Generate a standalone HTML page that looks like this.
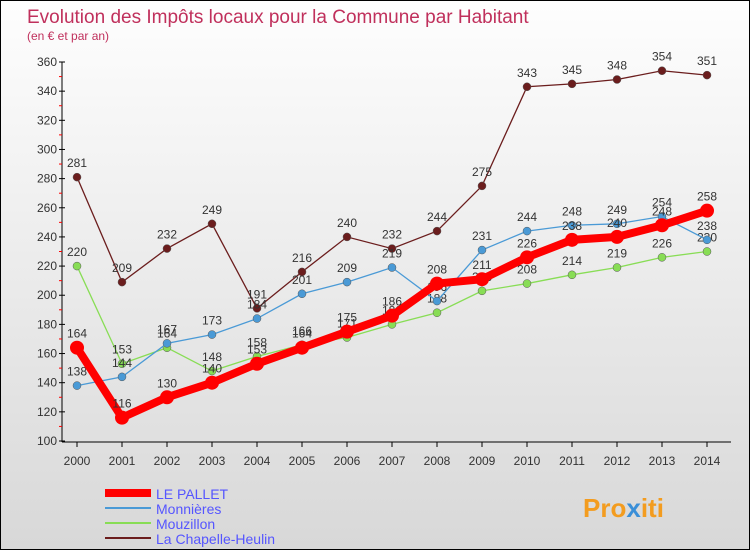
<!DOCTYPE html>
<html><head><meta charset="utf-8"><style>
body{margin:0}
#c{width:750px;height:550px;position:relative;overflow:hidden;background:linear-gradient(#fefefe,#d8d8d8);box-sizing:border-box;border:1px solid #000;font-family:"Liberation Sans",sans-serif}
</style></head><body>
<div id="c">
<svg id="s" width="750" height="550" style="position:absolute;left:0;top:0">
<text x="26" y="22" font-size="19" fill="#c0305c">Evolution des Impôts locaux pour la Commune par Habitant</text>
<text x="26" y="39" font-size="12" fill="#c0305c">(en € et par an)</text>
<g id="ax"></g><g id="ser"></g>
<g>
<line x1="104" y1="492" x2="150" y2="492" stroke="#f00" stroke-width="8"/>
<text x="155" y="498" font-size="14" fill="#55f">LE PALLET</text>
<line x1="104" y1="507" x2="150" y2="507" stroke="#4a9ad6" stroke-width="2"/>
<text x="155" y="513" font-size="14" fill="#55f">Monnières</text>
<line x1="104" y1="522" x2="150" y2="522" stroke="#88dd55" stroke-width="2"/>
<text x="155" y="528" font-size="14" fill="#55f">Mouzillon</text>
<line x1="104" y1="537" x2="150" y2="537" stroke="#6b1d1d" stroke-width="2"/>
<text x="155" y="543" font-size="14" fill="#55f">La Chapelle-Heulin</text>
</g>
<text x="582" y="516" font-size="26" font-weight="bold" fill="#f39c1f">Pro<tspan fill="#3a8fd8">x</tspan>iti</text>
</svg>
</div>
<script>
const years=[2000,2001,2002,2003,2004,2005,2006,2007,2008,2009,2010,2011,2012,2013,2014];
const yTicks=[100,120,140,160,180,200,220,240,260,280,300,320,340,360];
const lePallet=[164,116,130,140,153,164,175,186,208,211,226,238,240,248,258];
const monnieres=[138,144,167,173,184,201,209,219,196,231,244,248,249,254,238];
const mouzillon=[220,153,164,148,158,166,171,180,188,203,208,214,219,226,230];
const chapelle=[281,209,232,249,191,216,240,232,244,275,343,345,348,354,351];
const NS="http://www.w3.org/2000/svg";
const X=i=>76+i*45, Y=v=>440-(v-100)*(379/260);
function mk(t,a,p){const e=document.createElementNS(NS,t);for(const k in a)e.setAttribute(k,a[k]);p.appendChild(e);return e;}
const ax=document.getElementById('ax');
let l=mk('line',{x1:61,y1:61,x2:61,y2:441,stroke:'#000'},ax);


l=mk('line',{x1:61,y1:441,x2:730,y2:441,stroke:'#000'},ax);


yTicks.forEach(v=>{mk('line',{x1:58,x2:64,y1:Y(v),y2:Y(v),stroke:'#000'},ax);
 if(v<360)mk('line',{x1:58,x2:61,y1:Y(v+10),y2:Y(v+10),stroke:'#f00'},ax);
 const t=mk('text',{x:56,y:Y(v)+4,'font-size':12,'text-anchor':'end',fill:'#333'},ax);t.textContent=v;
 
 });
years.forEach((y,i)=>{mk('line',{x1:X(i),x2:X(i),y1:441,y2:446,stroke:'#000'},ax);
 const t=mk('text',{x:X(i),y:464,'font-size':12,'text-anchor':'middle',fill:'#333'},ax);t.textContent=y;
 
 });
const ser=document.getElementById('ser');
[[chapelle,'#6b1d1d',1.3,4,'la-chapelle-heulin'],[mouzillon,'#88dd55',1.3,4,'mouzillon'],[monnieres,'#4a9ad6',1.3,4,'monnieres'],[lePallet,'#f00',8,7,'le-pallet']].forEach(([d,c,w,r,n])=>{
 const g=mk('g',{},ser);
 
 
 mk('polyline',{points:d.map((v,i)=>X(i)+','+Y(v)).join(' '),fill:'none',stroke:c,'stroke-width':w},g);
 d.forEach((v,i)=>{const p=mk('circle',{cx:X(i),cy:Y(v),r:r,fill:c,stroke:w>2?'none':'#555','stroke-width':0.5},g);
  
  
  const t=mk('text',{x:X(i),y:Y(v)-10,'font-size':12,'text-anchor':'middle',fill:'#333'},g);t.textContent=v;
  
  });
});
</script>
</body></html>
